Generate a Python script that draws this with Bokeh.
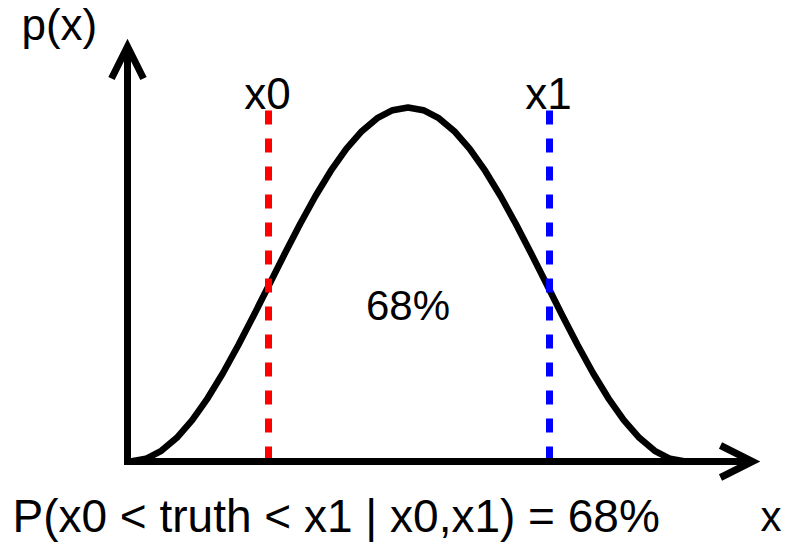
from bokeh.plotting import figure
from bokeh.models import Range1d, Arrow, OpenHead, Label
from bokeh.embed import file_html
from bokeh.resources import INLINE

curve_x = [3.0, 18.4, 33.8, 49.3, 64.7, 80.1, 95.5, 110.9, 126.3, 141.8, 157.2, 172.6,
           188.0, 203.4, 218.8, 234.3, 249.7, 265.1, 280.5, 295.9, 311.3, 326.8, 342.2,
           357.6, 373.0, 388.4, 403.8, 419.3, 434.7, 450.1, 465.5, 480.9, 496.3, 511.8,
           527.2, 542.6, 558.0]
curve_y = [0.0, 2.7, 10.7, 23.7, 41.4, 63.2, 88.5, 116.5, 146.3, 177.0, 207.7, 237.5,
           265.5, 290.8, 312.6, 330.3, 343.3, 351.3, 354.0, 351.3, 343.3, 330.3, 312.6,
           290.8, 265.5, 237.5, 207.7, 177.0, 146.3, 116.5, 88.5, 63.2, 41.4, 23.7,
           10.7, 2.7, 0.0]

# interval bounds
bound_names = ["x0", "x1"]
bound_x = [141, 422]
bound_colors = ["#ff0000", "#0000ff"]
bound_top = 351

peak_x = 280.5
label_center = "68%"
caption = "P(x0 < truth < x1 | x0,x1) = 68%"
y_axis_label = "p(x)"
x_axis_label = "x"

FONT = "Liberation Sans"

p = figure(width=796, height=542, output_backend="svg", toolbar_location=None,
           x_range=Range1d(-127, 669), y_range=Range1d(-81, 461),
           min_border=0, min_border_left=0, min_border_right=0,
           min_border_top=0, min_border_bottom=0)
p.axis.visible = False
p.grid.visible = False
p.outline_line_color = None
p.background_fill_color = "white"
p.border_fill_color = "white"

# axes arrows
p.add_layout(Arrow(x_start=0, y_start=-3.5, x_end=0, y_end=415,
                   line_width=7, line_color="black", line_cap="butt",
                   end=OpenHead(size=32, line_width=7, line_color="black", line_join="miter")))
p.add_layout(Arrow(x_start=-3.5, y_start=0, x_end=625, y_end=0,
                   line_width=7, line_color="black", line_cap="butt",
                   end=OpenHead(size=32, line_width=7, line_color="black", line_join="miter")))

# curve
p.line(curve_x, curve_y, line_width=6.5, line_color="black", line_join="round")

# dashed bounds
for bx, col in zip(bound_x, bound_colors):
    p.line([bx, bx], [bound_top, 0], line_width=7, line_color=col,
           line_dash="14 14", line_cap="butt")

dy = 14
for name, bx in zip(bound_names, bound_x):
    p.add_layout(Label(x=bx - 1, y=354 + dy, text=name, text_align="center",
                       text_baseline="alphabetic", text_font=FONT,
                       text_font_size="44px", text_color="black"))
p.add_layout(Label(x=peak_x, y=142 + dy, text=label_center, text_align="center",
                   text_baseline="alphabetic", text_font=FONT,
                   text_font_size="42px", text_color="black"))
p.add_layout(Label(x=-106, y=423 + dy, text=y_axis_label, text_align="left",
                   text_baseline="alphabetic", text_font=FONT,
                   text_font_size="44px", text_color="black"))
p.add_layout(Label(x=-115, y=-68 + dy, text=caption, text_align="left",
                   text_baseline="alphabetic", text_font=FONT,
                   text_font_size="46px", text_color="black"))
p.add_layout(Label(x=633, y=-69 + dy, text=x_axis_label, text_align="left",
                   text_baseline="alphabetic", text_font=FONT,
                   text_font_size="42px", text_color="black"))

open("out.html", "w").write(file_html(p, INLINE))
